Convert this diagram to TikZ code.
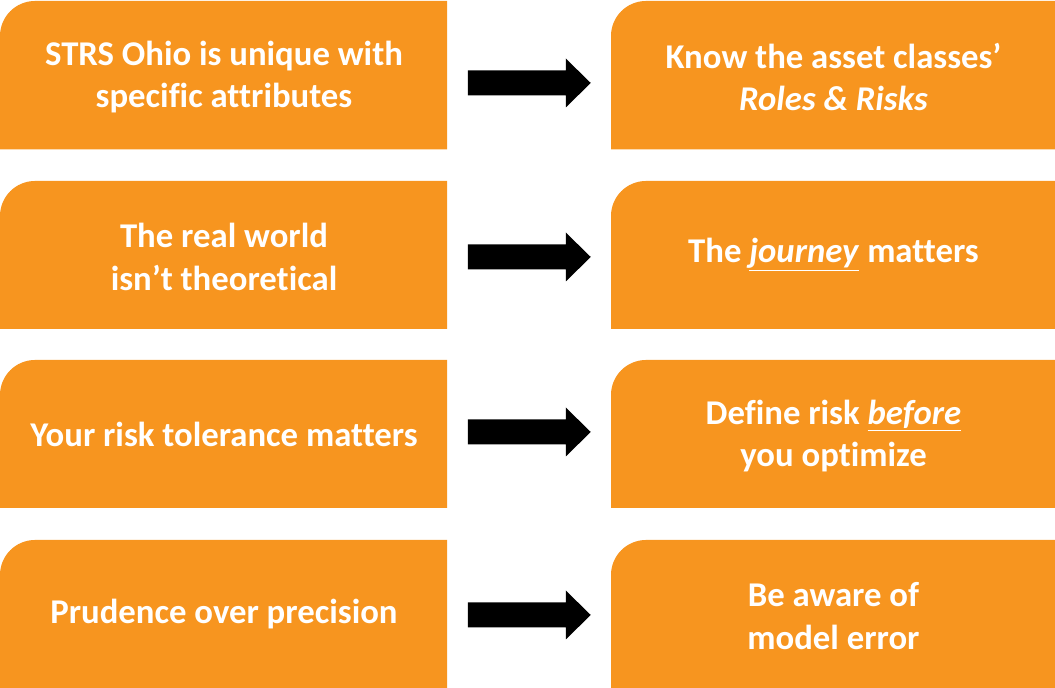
\documentclass[tikz,border=0pt]{standalone}
\usepackage{fontspec}
\setmainfont{Carlito}[Ligatures=NoCommon]
\usetikzlibrary{calc,backgrounds}
\definecolor{strsorange}{RGB}{247,149,31}
\tikzset{
  card/.style={minimum width=11.15cm, minimum height=3.725cm, inner sep=0pt, align=center, text=white,
    font=\fontsize{24.7}{30}\selectfont\bfseries},
  blockarrow/.style={fill=black}
}
\begin{document}
\begin{tikzpicture}[x=0.025cm, y=0.025cm, line join=round]
  \useasboundingbox (0,0) rectangle (1055,688);
  % left column
  \node[card] (l1) at (224,611) {STRS Ohio is unique with\\specific attributes};
  \node[card] (l2) at (224,431) {The real world\\isn’t theoretical};
  \node[card] (l3) at (224,254) {Your risk tolerance matters};
  \node[card] (l4) at (224,74) {Prudence over precision};
  % right column
  \node[card] (r1) at (833.5,611) {Know the asset classes’\\\textit{Roles \& Risks}};
  \node[card] (r2) at (833.5,433) {The \underline{\textit{journey}} matters};
  \node[card] (r3) at (833.5,252) {Define risk \underline{\textit{before}}\\you optimize};
  \node[card] (r4) at (833.5,72) {Be aware of\\model error};
  \begin{scope}[on background layer]
    \fill[strsorange] (0,538.5) -- (0,652) arc[start angle=180, end angle=90, radius=0.875cm] -- (447,687) -- (447,538.5) -- cycle;
    \fill[strsorange] (0,359) -- (0,472) arc[start angle=180, end angle=90, radius=0.875cm] -- (447,507) -- (447,359) -- cycle;
    \fill[strsorange] (0,180) -- (0,293) arc[start angle=180, end angle=90, radius=0.875cm] -- (447,328) -- (447,180) -- cycle;
    \fill[strsorange] (0,0) -- (0,113) arc[start angle=180, end angle=90, radius=0.875cm] -- (447,148) -- (447,0) -- cycle;
    \fill[strsorange] (611,538.5) -- (611,652) arc[start angle=180, end angle=90, radius=0.875cm] -- (1055,687) -- (1055,538.5) -- cycle;
    \fill[strsorange] (611,359) -- (611,472) arc[start angle=180, end angle=90, radius=0.875cm] -- (1055,507) -- (1055,359) -- cycle;
    \fill[strsorange] (611,180) -- (611,293) arc[start angle=180, end angle=90, radius=0.875cm] -- (1055,328) -- (1055,180) -- cycle;
    \fill[strsorange] (611,0) -- (611,113) arc[start angle=180, end angle=90, radius=0.875cm] -- (1055,148) -- (1055,0) -- cycle;
  \end{scope}
  % arrows between the columns
  \foreach \i/\dy in {1/-6,2/-1,3/3,4/0}{
    \coordinate (a\i) at ($(l\i.east)!0.5!(r\i.west)+(0,\dy)$);
    \fill[blockarrow] ($(a\i)+(-61,12.5)$) -- ($(a\i)+(37,12.5)$) -- ($(a\i)+(37,24.5)$) -- ($(a\i)+(62,0)$)
      -- ($(a\i)+(37,-24.5)$) -- ($(a\i)+(37,-12.5)$) -- ($(a\i)+(-61,-12.5)$) -- cycle;
  }
\end{tikzpicture}
\end{document}
